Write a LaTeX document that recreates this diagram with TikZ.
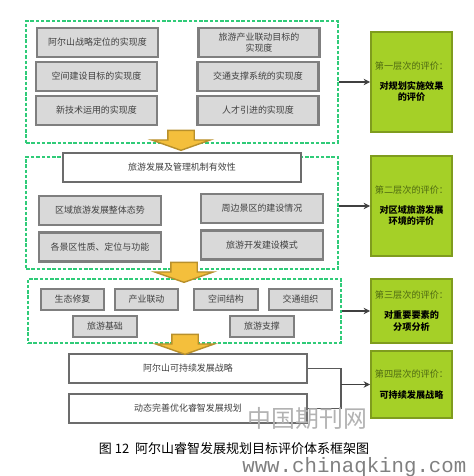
\documentclass[tikz,border=0pt]{standalone}
\usepackage{fontspec}
\setmainfont{Noto Sans CJK SC}
\newfontfamily\markfont{Liberation Mono}
\usetikzlibrary{shapes.arrows, arrows.meta}
\definecolor{framegreen}{HTML}{2FCB78}
\definecolor{levelgreen}{HTML}{A5D027}
\definecolor{leveledge}{HTML}{7F9C1E}
\definecolor{levelhead}{HTML}{4F6A12}
\definecolor{itemfill}{HTML}{D9D9D9}
\definecolor{itemedge}{HTML}{7F7F7F}
\definecolor{itemtext}{HTML}{404040}
\definecolor{downfill}{HTML}{F4BF3C}
\definecolor{downedge}{HTML}{B8902C}
\begin{document}
\begin{tikzpicture}[
  frame/.style={draw=framegreen, dash pattern=on 2pt off 1pt, line width=0.7pt},
  itembox/.style={draw=itemedge, fill=itemfill, line width=1.2pt, minimum width=2.42cm, minimum height=0.58cm, inner sep=0pt, align=center, text=itemtext, font=\fontsize{5.1pt}{6.6pt}\selectfont},
  smallbox/.style={itembox, minimum width=1.27cm, minimum height=0.42cm},
  whitebox/.style={draw=itemedge!85!black, fill=white, line width=1.2pt, minimum width=4.76cm, minimum height=0.58cm, inner sep=0pt, text=itemtext, font=\fontsize{5.1pt}{6.6pt}\selectfont},
  levelbox/.style={draw=leveledge, fill=levelgreen, line width=1pt, minimum width=1.62cm, inner sep=0pt, align=center, font=\fontsize{5.2pt}{6.6pt}\selectfont},
  downarrow/.style={shape=single arrow, shape border rotate=270, draw=downedge, fill=downfill, line width=0.8pt, text width=0.5cm, minimum width=1.14cm, minimum height=0.4cm, inner sep=0pt, single arrow head extend=0.32cm, single arrow tip angle=141},
  arrow/.style={-{Stealth[length=0.13cm, width=0.13cm]}, line width=0.6pt, draw=black!75},
  elbow/.style={line width=0.6pt, draw=black!65}
]
\useasboundingbox (0, 0) rectangle (9.46, 9.52);

% Dashed frames
\node[frame, minimum width=6.24cm, minimum height=2.44cm] (frameA) at (3.64, 7.88) {};
\node[frame, minimum width=6.24cm, minimum height=2.24cm] (frameB) at (3.64, 5.26) {};
\node[frame, minimum width=6.26cm, minimum height=1.28cm] (frameC) at (3.69, 3.30) {};

% First group
\node[itembox] (a1) at (1.95, 8.67) {阿尔山战略定位的实现度};
\node[itembox] (a2) at (1.93, 7.99) {空间建设目标的实现度};
\node[itembox] (a3) at (1.93, 7.31) {新技术运用的实现度};
\node[itembox] (a4) at (5.18, 8.67) {旅游产业联动目标的\\实现度};
\node[itembox] (a5) at (5.16, 7.99) {交通支撑系统的实现度};
\node[itembox] (a6) at (5.16, 7.31) {人才引进的实现度};

% Second group
\node[whitebox] (mech) at (3.64, 6.17) {旅游发展及管理机制有效性};
\node[itembox, minimum width=2.44cm] (b1) at (2.00, 5.31) {区域旅游发展整体态势};
\node[itembox, minimum width=2.44cm] (b2) at (2.00, 4.58) {各景区性质、定位与功能};
\node[itembox, minimum width=2.44cm] (b3) at (5.24, 5.35) {周边景区的建设情况};
\node[itembox, minimum width=2.44cm] (b4) at (5.24, 4.62) {旅游开发建设模式};

% Third group
\node[smallbox] (c1) at (1.45, 3.53) {生态修复};
\node[smallbox] (c2) at (2.93, 3.53) {产业联动};
\node[smallbox] (c3) at (4.52, 3.53) {空间结构};
\node[smallbox] (c4) at (6.01, 3.53) {交通组织};
\node[smallbox] (c5) at (2.10, 2.99) {旅游基础};
\node[smallbox] (c6) at (5.24, 2.99) {旅游支撑};

% Strategy boxes
\node[whitebox] (plan1) at (3.76, 2.15) {阿尔山可持续发展战略};
\node[whitebox] (plan2) at (3.76, 1.35) {动态完善优化睿智发展规划};

% Level boxes
\node[levelbox, minimum height=2.0cm] (level1) at (8.23, 7.88) {\textcolor{levelhead}{第一层次的评价：}\\[0.16cm]\textbf{对规划实施效果}\\\textbf{的评价}};
\node[levelbox, minimum height=2.0cm] (level2) at (8.23, 5.40) {\textcolor{levelhead}{第二层次的评价：}\\[0.16cm]\textbf{对区域旅游发展}\\\textbf{环境的评价}};
\node[levelbox, minimum height=1.28cm] (level3) at (8.23, 3.30) {\textcolor{levelhead}{第三层次的评价：}\\[0.16cm]\textbf{对重要要素的}\\\textbf{分项分析}};
\node[levelbox, minimum height=1.34cm] (level4) at (8.23, 1.83) {\textcolor{levelhead}{第四层次的评价：}\\[0.2cm]\textbf{可持续发展战略}};

% Down arrows
\node[downarrow] (down1) at (3.62, 6.76) {};
\node[downarrow] (down2) at (3.68, 4.12) {};
\node[downarrow] (down3) at (3.70, 2.68) {};

% Arrows
\draw[arrow] (frameA.east) -- (level1.west);
\draw[arrow] (frameB.east |- level2.west) -- (level2.west);
\draw[arrow] (frameC.east) -- (level3.west);
\coordinate (joint) at (6.82, 1.83);
\draw[elbow] (plan1.east) -| (joint);
\draw[elbow] (plan2.east) -| (joint);
\draw[arrow] (joint) -- (level4.west);

% Caption
\node[font=\fontsize{7.4pt}{8pt}\selectfont, inner sep=0pt] (caption) at (4.68, 0.55) {图 12 \ 阿尔山睿智发展规划目标评价体系框架图};

% Watermark
\node[font=\fontsize{13.6pt}{15pt}\selectfont, text=black!30, inner sep=0pt] (markcn) at (6.15, 1.16) {中国期刊网};
\node[font=\markfont\fontsize{11.8pt}{14pt}\selectfont, text=black!50, anchor=west, inner sep=0pt] (markurl) at (4.84, 0.18) {www.chinaqking.com};
\end{tikzpicture}
\end{document}
